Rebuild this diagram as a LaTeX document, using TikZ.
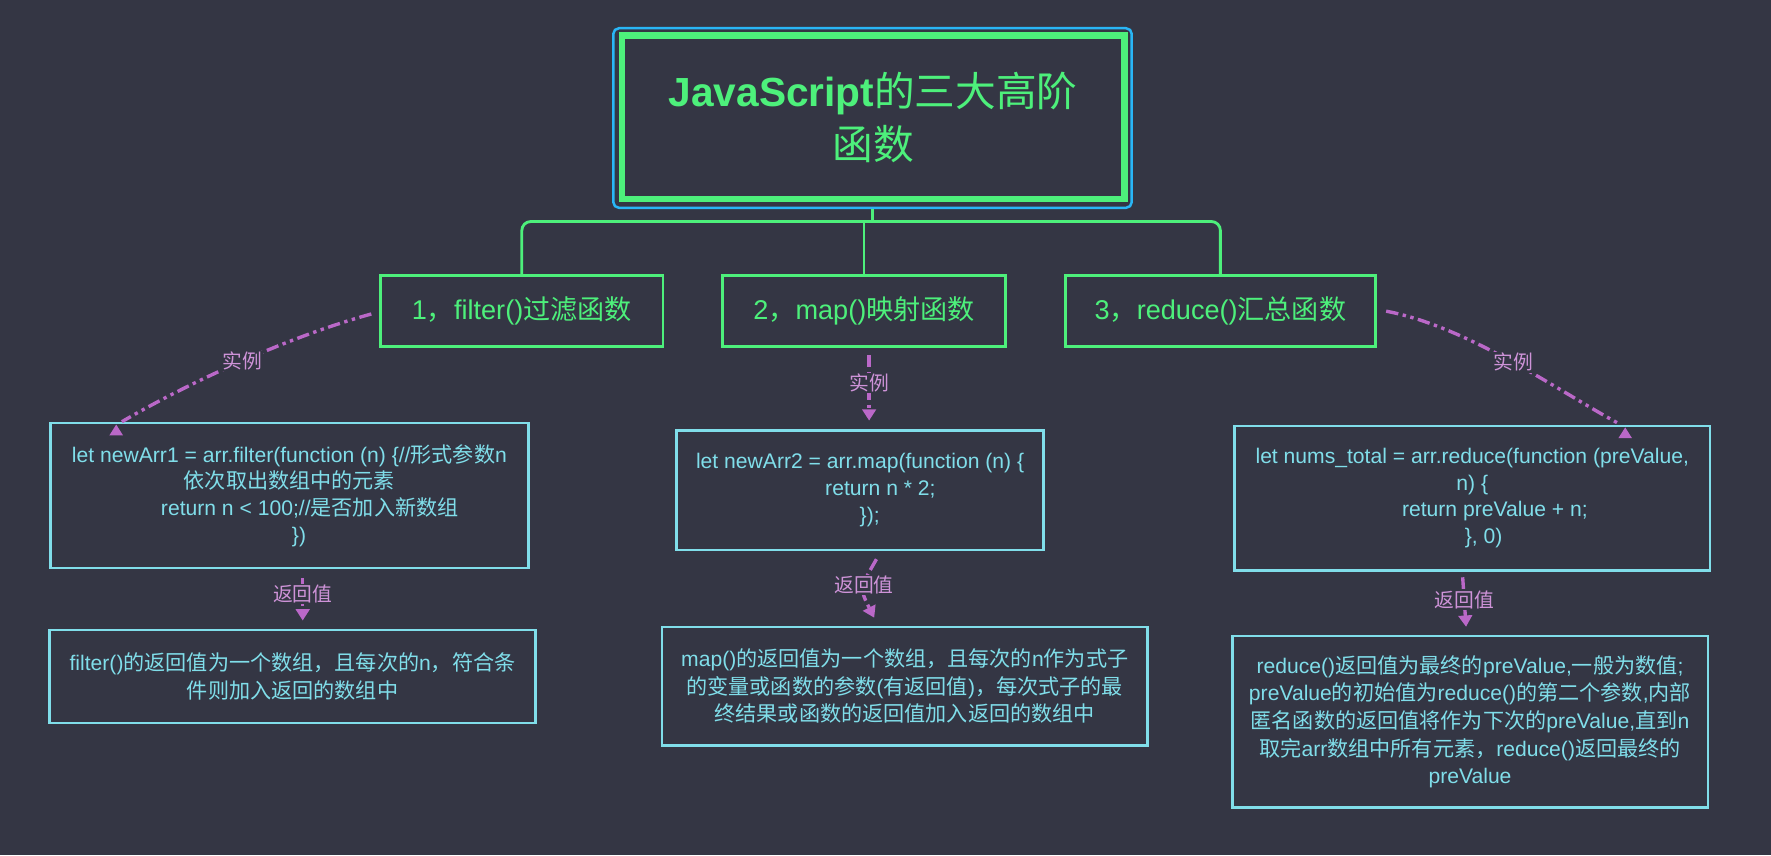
\documentclass[tikz,border=0pt]{standalone}
\usepackage{fontspec}
\setmainfont{Liberation Sans}
\newfontfamily\cjkfam{Noto Sans CJK SC}
\usetikzlibrary{arrows.meta,calc}
\XeTeXinterchartokenstate=1
\newXeTeXintercharclass\CJKcls
\newcount\cjkcnt
\def\setcjkrange#1#2{\cjkcnt=#1\relax
  \loop\XeTeXcharclass\cjkcnt=\CJKcls\relax
  \ifnum\cjkcnt<#2\relax\advance\cjkcnt by 1\relax\repeat}
\setcjkrange{"3000}{"303F}
\setcjkrange{"4E00}{"9FFF}
\setcjkrange{"FF00}{"FFEF}
\XeTeXinterchartoks 0 \CJKcls = {\cjkfam}
\XeTeXinterchartoks 4095 \CJKcls = {\cjkfam}
\XeTeXinterchartoks \CJKcls 0 = {\rmfamily}
\XeTeXinterchartoks \CJKcls 4095 = {\rmfamily}
\definecolor{bgc}{HTML}{343644}
\definecolor{grn}{HTML}{4DF07B}
\definecolor{blu}{HTML}{29B6F6}
\definecolor{cyn}{HTML}{80DEEA}
\definecolor{pur}{HTML}{BA68C8}
\definecolor{plab}{HTML}{CE93D8}
\tikzset{
 topbox/.style={draw=grn, line width=5.5pt, minimum width=445pt, minimum height=145pt, inner sep=0pt, text=grn, align=center, font=\fontsize{36}{47}\selectfont},
 outline/.style={draw=blu, line width=2.2pt, rounded corners=5pt, minimum width=459pt, minimum height=159pt, inner sep=0pt},
 fnbox/.style={draw=grn, line width=2.5pt, minimum height=63pt, inner sep=0pt, text=grn, font=\fontsize{24}{28}\selectfont},
 codebox/.style={draw=cyn, line width=2.2pt, inner sep=0pt, text=cyn, align=center, font=\fontsize{18.7}{23.7}\selectfont},
 resbox/.style={codebox, font=\fontsize{18.7}{24.5}\selectfont},
 tree/.style={draw=grn, line width=2.5pt},
 flow/.style={draw=pur, line width=3pt, dash pattern=on 11pt off 4pt on 3pt off 4pt on 3pt off 4pt},
 flowtip/.style={-{Triangle[width=12pt,length=10pt]}},
 lab/.style={fill=bgc, text=plab, inner sep=1pt, font=\fontsize{17.5}{20}\selectfont},
}
\begin{document}
\begin{tikzpicture}[x=1pt,y=-1pt]
\path[use as bounding box, fill=bgc] (0,0) rectangle (1568,757);
% title
\node[outline] (titleo) at (772.5,104.5) {};
\node[topbox] (title) at (773,104) {{\bfseries JavaScript}的三大高阶\\函数};
% function boxes
\node[fnbox, minimum width=250pt] (b1) at (462,275.5) {1，filter()过滤函数};
\node[fnbox, minimum width=250pt] (b2) at (765,275.5) {2，map()映射函数};
\node[fnbox, minimum width=275pt] (b3) at (1080.5,275.5) {3，reduce()汇总函数};
% code boxes
\node[codebox, minimum width=423.5pt, minimum height=128.5pt] (c1) at (256.25,438.75)
 {let newArr1 = arr.filter(function (n) \{//形式参数n\\依次取出数组中的元素\\\hspace*{36pt}return n < 100;//是否加入新数组\\\hspace*{17pt}\})};
\node[codebox, minimum width=325pt, minimum height=106pt] (c2) at (761.5,434)
 {let newArr2 = arr.map(function (n) \{\\\hspace*{36pt}return n * 2;\\\hspace*{17pt}\});};
\node[codebox, minimum width=421pt, minimum height=128pt] (c3) at (1303.5,441)
 {let nums\_total = arr.reduce(function (preValue,\\n) \{\\\hspace*{40pt}return preValue + n;\\\hspace*{20pt}\}, 0)};
% result boxes
\node[resbox, minimum width=430pt, minimum height=82pt] (r1) at (259,599)
 {filter()的返回值为一个数组，且每次的n，符合条\\件则加入返回的数组中};
\node[resbox, minimum width=430pt, minimum height=105pt] (r2) at (801,607.5)
 {map()的返回值为一个数组，且每次的n作为式子\\的变量或函数的参数(有返回值)，每次式子的最\\终结果或函数的返回值加入返回的数组中};
\node[resbox, minimum width=421pt, minimum height=152pt] (r3) at (1301.5,639)
 {reduce()返回值为最终的preValue,一般为数值;\\preValue的初始值为reduce()的第二个参数,内部\\匿名函数的返回值将作为下次的preValue,直到n\\取完arr数组中所有元素，reduce()返回最终的\\preValue};
% tree connectors
\coordinate (jct) at ($(titleo.south)+(0,11)$);
\draw[tree] (titleo.south) -- (jct);
\draw[tree, rounded corners=8pt] (jct) -| (b1.north);
\draw[tree] (jct) -| (b2.north);
\draw[tree, rounded corners=8pt] (jct) -| (b3.north);
% example arrows
\coordinate (s1) at ($(b1.west)+(-7,2.5)$);
\coordinate (t1) at ($(c1.north west)+(64.5,0)$);
\draw[flow] (s1) .. controls ($(s1)+(-80,22)$) and ($(t1)+(51,-30)$) .. (t1) node[lab, pos=0.47] {实例};
\fill[pur] ($(t1)+(-5,2.5)$) -- ++(-6,9.5) -- ++(12,0) -- cycle;
\coordinate (s2) at ($(b2.south)+(4.5,6)$);
\coordinate (e2) at ($(c2.north)+(8,-7.5)$);
\draw[flow, flowtip] (s2) -- (e2) node[lab, pos=0.43] {实例};
\coordinate (s3) at ($(b3.east)+(8,0)$);
\coordinate (t3) at ($(c3.north west)+(343,0)$);
\draw[flow] (s3) .. controls ($(s3)+(74,14)$) and ($(t3)+(-51,-27)$) .. (t3) node[lab, pos=0.5] {实例};
\fill[pur] ($(t3)+(4,2.5)$) -- ++(-6,9.5) -- ++(12,0) -- cycle;
% return arrows
\coordinate (u1) at ($(c1.south)+(11.75,7.5)$);
\coordinate (v1) at ($(r1.north)+(9,-7.5)$);
\draw[flow, flowtip] (u1) -- (v1) node[lab, pos=0.38] {返回值};
\coordinate (u2) at ($(c2.south)+(14.5,7)$);
\coordinate (v2) at ($(r2.north)+(-27,-7)$);
\draw[flow, flowtip] (u2) .. controls ($(u2)!0.5!(v2)+(-14,0)$) .. (v2) node[lab, pos=0.42] {返回值};
\coordinate (u3) at ($(c3.south)+(-8.5,5)$);
\coordinate (v3) at ($(r3.north)+(-3.5,-7)$);
\draw[flow, flowtip] (u3) -- (v3) node[lab, pos=0.45] {返回值};
\end{tikzpicture}
\end{document}
